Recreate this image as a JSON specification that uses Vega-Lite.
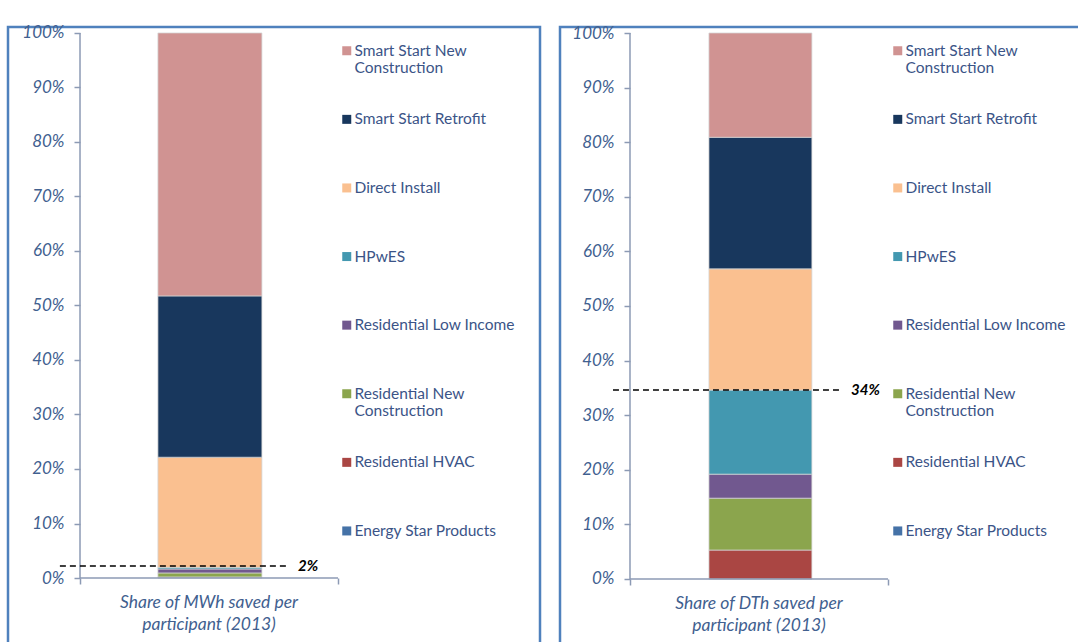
{
  "$schema": "https://vega.github.io/schema/vega-lite/v6.json",
  "padding": {"left": 6, "top": 22, "right": 0, "bottom": 0},
  "background": "white",
  "config": {
    "view": {"stroke": "#4F81BD", "strokeWidth": 2.5},
    "font": "Lato"
  },
  "datasets": {
    "bars": [
      {"metric": "MWh", "program": "Energy Star Products", "share": 0.0005},
      {"metric": "MWh", "program": "Residential HVAC", "share": 0.0015},
      {"metric": "MWh", "program": "Residential New Construction", "share": 0.0073},
      {"metric": "MWh", "program": "Residential Low Income", "share": 0.0073},
      {"metric": "MWh", "program": "HPwES", "share": 0.003},
      {"metric": "MWh", "program": "Direct Install", "share": 0.202},
      {"metric": "MWh", "program": "Smart Start Retrofit", "share": 0.296},
      {"metric": "MWh", "program": "Smart Start New Construction", "share": 0.4824},
      {"metric": "DTh", "program": "Energy Star Products", "share": 0.0},
      {"metric": "DTh", "program": "Residential HVAC", "share": 0.053},
      {"metric": "DTh", "program": "Residential New Construction", "share": 0.095},
      {"metric": "DTh", "program": "Residential Low Income", "share": 0.044},
      {"metric": "DTh", "program": "HPwES", "share": 0.154},
      {"metric": "DTh", "program": "Direct Install", "share": 0.222},
      {"metric": "DTh", "program": "Smart Start Retrofit", "share": 0.241},
      {"metric": "DTh", "program": "Smart Start New Construction", "share": 0.191}
    ],
    "markers": [
      {"metric": "MWh", "level": 0.022, "label": "2%", "caption": "Share of MWh saved per\nparticipant (2013)"},
      {"metric": "DTh", "level": 0.346, "label": "34%", "caption": "Share of DTh saved per\nparticipant (2013)"}
    ]
  },
  "spacing": 16,
  "resolve": {"scale": {"color": "independent", "x": "independent", "y": "independent"}, "legend": {"color": "independent"}},
  "hconcat": [
    {
      "width": 532,
      "height": 640,
      "layer": [
        {
          "data": {"name": "bars"},
          "transform": [
            {"filter": "datum.metric == 'MWh'"},
            {"calculate": "indexof(['Energy Star Products','Residential HVAC','Residential New Construction','Residential Low Income','HPwES','Direct Install','Smart Start Retrofit','Smart Start New Construction'], datum.program)", "as": "stackOrder"},
            {"stack": "share", "groupby": ["metric"], "sort": [{"field": "stackOrder", "order": "ascending"}], "as": ["y0", "y1"]}
          ],
          "mark": {"type": "rect", "stroke": "#d4d4d4", "strokeWidth": 0.75},
          "encoding": {
            "x": {"datum": 0.302, "type": "quantitative",
              "scale": {"domain": [-0.2791, 1.7829], "nice": false, "zero": false},
              "axis": {"orient": "bottom", "offset": -89, "values": [0, 1], "labels": false, "ticks": true, "tickSize": 6, "tickColor": "#8C9AB4", "tickWidth": 1.5, "domain": false, "grid": false, "title": null}},
            "x2": {"datum": 0.705},
            "y": {"field": "y0", "type": "quantitative",
              "scale": {"domain": [-0.1633, 1.011], "nice": false, "zero": false},
              "axis": {"orient": "left", "offset": -72, "values": [0, 0.1, 0.2, 0.3, 0.4, 0.5, 0.6, 0.7, 0.8, 0.9, 1], "format": ".0%", "domain": false, "grid": false, "title": null, "tickSize": 6, "tickColor": "#8C9AB4", "tickWidth": 1.5, "labelPadding": 10, "labelFont": "Lato", "labelFontStyle": "italic", "labelFontSize": 17, "labelColor": "#41608F"}},
            "y2": {"field": "y1"},
            "color": {"field": "program", "type": "nominal",
              "scale": {
                "domain": ["Smart Start New Construction", "Smart Start Retrofit", "Direct Install", "HPwES", "Residential Low Income", "Residential New Construction", "Residential HVAC", "Energy Star Products"],
                "range": ["#D09392", "#18375D", "#FAC090", "#4398B0", "#71588F", "#8BA54D", "#AA4643", "#4572A7"]
              },
              "legend": {"orient": "none", "legendX": 331, "legendY": 16, "title": null, "symbolType": "square", "symbolSize": 81, "symbolStrokeWidth": 0, "labelFont": "Lato", "labelFontSize": 15.5, "labelColor": "#3B5487", "labelOffset": 0, "labelLimit": 0, "rowPadding": 34.6, "gridAlign": "all", "labelBaseline": "middle",
                "labelExpr": "datum.label == 'Smart Start New Construction' ? ['Smart Start New', 'Construction'] : datum.label == 'Residential New Construction' ? ['Residential New', 'Construction'] : [datum.label, '']"}
            }
          }
        },
        {
          "data": {"name": "markers"},
          "transform": [{"filter": "datum.metric == 'MWh'"}],
          "mark": {"type": "rule", "color": "#8C9AB4", "strokeWidth": 1.5},
          "encoding": {"x": {"datum": 0, "type": "quantitative"}, "y": {"datum": 0, "type": "quantitative"}, "y2": {"datum": 1}}
        },
        {
          "data": {"name": "markers"},
          "transform": [{"filter": "datum.metric == 'MWh'"}],
          "mark": {"type": "rule", "color": "#8C9AB4", "strokeWidth": 1.5},
          "encoding": {"y": {"datum": 0, "type": "quantitative"}, "x": {"datum": 0, "type": "quantitative"}, "x2": {"datum": 1}}
        },
        {
          "data": {"name": "markers"},
          "transform": [{"filter": "datum.metric == 'MWh'"}],
          "mark": {"type": "rule", "color": "black", "strokeWidth": 1.5, "strokeDash": [6, 4]},
          "encoding": {"y": {"field": "level", "type": "quantitative"}, "x": {"datum": -0.078, "type": "quantitative"}, "x2": {"datum": 0.8}}
        },
        {
          "data": {"name": "markers"},
          "transform": [{"filter": "datum.metric == 'MWh'"}],
          "mark": {"type": "text", "align": "left", "baseline": "middle", "fontSize": 15, "fontWeight": "bold", "fontStyle": "italic", "color": "black"},
          "encoding": {"y": {"field": "level", "type": "quantitative"}, "x": {"datum": 0.845, "type": "quantitative"}, "text": {"field": "label"}}
        },
        {
          "data": {"name": "markers"},
          "transform": [{"filter": "datum.metric == 'MWh'"}],
          "mark": {"type": "text", "align": "center", "baseline": "top", "lineBreak": "\n", "lineHeight": 22, "fontSize": 17.5, "fontStyle": "italic", "color": "#41608F"},
          "encoding": {"y": {"datum": -0.029, "type": "quantitative"}, "x": {"datum": 0.5, "type": "quantitative"}, "text": {"field": "caption"}}
        }
      ]
    },
    {
      "width": 532,
      "height": 640,
      "layer": [
        {
          "data": {"name": "bars"},
          "transform": [
            {"filter": "datum.metric == 'DTh'"},
            {"calculate": "indexof(['Energy Star Products','Residential HVAC','Residential New Construction','Residential Low Income','HPwES','Direct Install','Smart Start Retrofit','Smart Start New Construction'], datum.program)", "as": "stackOrder"},
            {"stack": "share", "groupby": ["metric"], "sort": [{"field": "stackOrder", "order": "ascending"}], "as": ["y0", "y1"]}
          ],
          "mark": {"type": "rect", "stroke": "#d4d4d4", "strokeWidth": 0.75},
          "encoding": {
            "x": {"datum": 0.306, "type": "quantitative",
              "scale": {"domain": [-0.2713, 1.7907], "nice": false, "zero": false},
              "axis": {"orient": "bottom", "offset": -88, "values": [0, 1], "labels": false, "ticks": true, "tickSize": 6, "tickColor": "#8C9AB4", "tickWidth": 1.5, "domain": false, "grid": false, "title": null}},
            "x2": {"datum": 0.705},
            "y": {"field": "y0", "type": "quantitative",
              "scale": {"domain": [-0.1612, 1.011], "nice": false, "zero": false},
              "axis": {"orient": "left", "offset": -70, "values": [0, 0.1, 0.2, 0.3, 0.4, 0.5, 0.6, 0.7, 0.8, 0.9, 1], "format": ".0%", "domain": false, "grid": false, "title": null, "tickSize": 6, "tickColor": "#8C9AB4", "tickWidth": 1.5, "labelPadding": 10, "labelFont": "Lato", "labelFontStyle": "italic", "labelFontSize": 17, "labelColor": "#41608F"}},
            "y2": {"field": "y1"},
            "color": {"field": "program", "type": "nominal",
              "scale": {
                "domain": ["Smart Start New Construction", "Smart Start Retrofit", "Direct Install", "HPwES", "Residential Low Income", "Residential New Construction", "Residential HVAC", "Energy Star Products"],
                "range": ["#D09392", "#18375D", "#FAC090", "#4398B0", "#71588F", "#8BA54D", "#AA4643", "#4572A7"]
              },
              "legend": {"orient": "none", "legendX": 330, "legendY": 16, "title": null, "symbolType": "square", "symbolSize": 81, "symbolStrokeWidth": 0, "labelFont": "Lato", "labelFontSize": 15.5, "labelColor": "#3B5487", "labelOffset": 0, "labelLimit": 0, "rowPadding": 34.6, "gridAlign": "all", "labelBaseline": "middle",
                "labelExpr": "datum.label == 'Smart Start New Construction' ? ['Smart Start New', 'Construction'] : datum.label == 'Residential New Construction' ? ['Residential New', 'Construction'] : [datum.label, '']"}
            }
          }
        },
        {
          "data": {"name": "markers"},
          "transform": [{"filter": "datum.metric == 'DTh'"}],
          "mark": {"type": "rule", "color": "#8C9AB4", "strokeWidth": 1.5},
          "encoding": {"x": {"datum": 0, "type": "quantitative"}, "y": {"datum": 0, "type": "quantitative"}, "y2": {"datum": 1}}
        },
        {
          "data": {"name": "markers"},
          "transform": [{"filter": "datum.metric == 'DTh'"}],
          "mark": {"type": "rule", "color": "#8C9AB4", "strokeWidth": 1.5},
          "encoding": {"y": {"datum": 0, "type": "quantitative"}, "x": {"datum": 0, "type": "quantitative"}, "x2": {"datum": 1}}
        },
        {
          "data": {"name": "markers"},
          "transform": [{"filter": "datum.metric == 'DTh'"}],
          "mark": {"type": "rule", "color": "black", "strokeWidth": 1.5, "strokeDash": [6, 4]},
          "encoding": {"y": {"field": "level", "type": "quantitative"}, "x": {"datum": -0.066, "type": "quantitative"}, "x2": {"datum": 0.81}}
        },
        {
          "data": {"name": "markers"},
          "transform": [{"filter": "datum.metric == 'DTh'"}],
          "mark": {"type": "text", "align": "left", "baseline": "middle", "fontSize": 15, "fontWeight": "bold", "fontStyle": "italic", "color": "black"},
          "encoding": {"y": {"field": "level", "type": "quantitative"}, "x": {"datum": 0.857, "type": "quantitative"}, "text": {"field": "label"}}
        },
        {
          "data": {"name": "markers"},
          "transform": [{"filter": "datum.metric == 'DTh'"}],
          "mark": {"type": "text", "align": "center", "baseline": "top", "lineBreak": "\n", "lineHeight": 22, "fontSize": 17.5, "fontStyle": "italic", "color": "#41608F"},
          "encoding": {"y": {"datum": -0.029, "type": "quantitative"}, "x": {"datum": 0.5, "type": "quantitative"}, "text": {"field": "caption"}}
        }
      ]
    }
  ]
}
